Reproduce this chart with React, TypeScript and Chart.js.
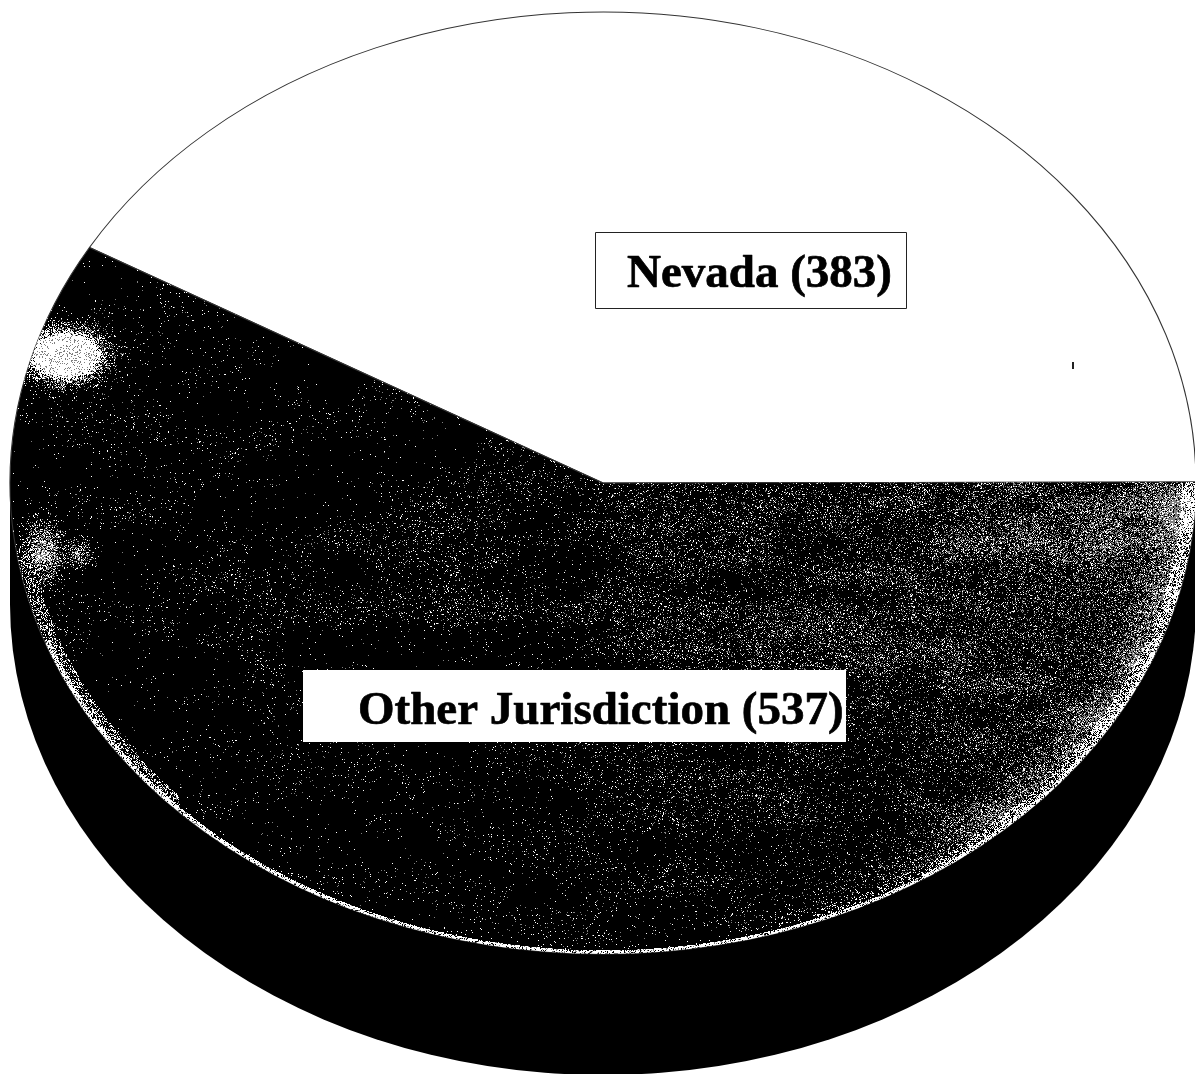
import React, { useEffect, useRef } from "react";
import { Chart, registerables } from "chart.js";

Chart.register(...registerables);

const categories = ["Nevada", "Other Jurisdiction"];
const counts = [383, 537];
const sliceColors = ["#ffffff", "#000000"];

const W = 1195;
const H = 1074;
const CX = 603;
const CY = 483;
const RX = 593;
const RY = 471;
const DEPTH = 121;

const hash = (x: number, y: number) => {
  let h = (Math.imul(x, 374761393) + Math.imul(y, 668265263)) | 0;
  h = Math.imul(h ^ (h >>> 13), 1274126177);
  h ^= h >>> 16;
  h = Math.imul(h, 1103515245);
  h ^= h >>> 15;
  return (h >>> 0) / 4294967296;
};
const smooth = (a: number, b: number, v: number) => {
  const t = Math.min(1, Math.max(0, (v - a) / (b - a)));
  return t * t * (3 - 2 * t);
};
const lattice = (x: number, y: number, cw: number, ch: number, seed: number) => {
  const gx = x / cw;
  const gy = y / ch;
  const ix = Math.floor(gx);
  const iy = Math.floor(gy);
  const fx = smooth(0, 1, gx - ix);
  const fy = smooth(0, 1, gy - iy);
  const a = hash(ix + seed, iy);
  const b = hash(ix + 1 + seed, iy);
  const c = hash(ix + seed, iy + 1);
  const d = hash(ix + 1 + seed, iy + 1);
  return (a * (1 - fx) + b * fx) * (1 - fy) + (c * (1 - fx) + d * fx) * fy;
};
const gauss = (x: number, y: number, mx: number, my: number, sx: number, sy: number) =>
  Math.exp(-(((x - mx) / sx) ** 2 + ((y - my) / sy) ** 2));

// Scanned-print speckle that sits on the dark slice (style only, not data)
let speckle: HTMLCanvasElement | null = null;
const getSpeckle = () => {
  if (speckle) return speckle;
  const off = document.createElement("canvas");
  off.width = W;
  off.height = H;
  const c = off.getContext("2d")!;
  const img = c.createImageData(W, H);
  for (let y = 0; y < H; y++) {
    for (let x = 0; x < W; x++) {
      const r = Math.hypot((x - CX) / RX, (y - CY) / RY);
      if (r > 1.002) continue;
      const n = 0.6 * lattice(x, y, 110, 34, 11) + 0.4 * lattice(x, y, 38, 18, 53);
      const t = Math.min(1, Math.max(0, (x - 420) / 760));
      const mask = 0.25 + 1.4 * smooth(0.34, 0.68, n);
      const mid = 0.02 + 0.05 * gauss(x, y, 640, 590, 380, 110);
      const right = 0.3 * t * t * (0.55 + 0.9 * smooth(0.3, 0.7, n));
      let p = mid * mask + right + 0.12 * t * t * gauss(x, y, 1000, 560, 260, 90);
      p += 0.4 * smooth(0.9, 0.995, r) * smooth(760, 1050, x) * (y > 470 ? 1 : 0);
      const hot = Math.min(1, gauss(x, y, 65, 355, 31, 21) * 2.6);
      p = Math.max(p, hot);
      p = Math.max(p, gauss(x, y, 42, 553, 17, 26) * 0.85);
      p = Math.max(p, gauss(x, y, 78, 552, 13, 12) * 0.6);
      p = Math.max(p, gauss(x, y, 1082, 752, 24, 20) * 0.75);
      p = Math.max(p, gauss(x, y, 1135, 660, 20, 26) * 0.7);
      if (r > 0.975 && y > 555 && x < 180) p = Math.max(p, 0.35);
      if (r > 0.991 && y > 640) p = Math.max(p, 0.85);
      if (hash(x, y) < p) {
        const whiteChance = hot > 0.6 || r > 0.975 ? 0.85 : 0.5 - 0.2 * t;
        const v = hash(x + 7001, y + 313) < whiteChance ? 255 : 128;
        const i = (y * W + x) * 4;
        img.data[i] = v;
        img.data[i + 1] = v;
        img.data[i + 2] = v;
        img.data[i + 3] = 255;
      }
    }
  }
  c.putImageData(img, 0, 0);
  speckle = off;
  return off;
};

const pie3d = {
  id: "pie3d",
  beforeDatasetsDraw(chart: any) {
    const ctx = chart.ctx;
    const arc = chart.getDatasetMeta(0).data[0];
    ctx.save();
    ctx.fillStyle = "#000";
    ctx.beginPath();
    ctx.ellipse(CX, CY + DEPTH, RX, RY, 0, 0, Math.PI * 2);
    ctx.fill();
    ctx.fillRect(CX - RX, CY, RX * 2, DEPTH);
    ctx.restore();
    ctx.save();
    ctx.translate(CX, CY);
    ctx.scale(RX / arc.outerRadius, RY / arc.outerRadius);
    ctx.translate(-arc.x, -arc.y);
  },
  afterDatasetsDraw(chart: any) {
    const ctx = chart.ctx;
    ctx.restore();
    const dark = chart.getDatasetMeta(0).data[1];
    ctx.save();
    ctx.beginPath();
    ctx.moveTo(CX, CY);
    ctx.ellipse(CX, CY, RX, RY, 0, dark.startAngle, dark.endAngle);
    ctx.closePath();
    ctx.clip();
    ctx.drawImage(getSpeckle(), 0, 0);
    ctx.restore();
  },
  afterDraw(chart: any) {
    const ctx = chart.ctx;
    const boxes = [
      { x: 595.5, y: 232.5, w: 311, h: 76, border: true, tx: 627, ty: 287 },
      { x: 303, y: 670, w: 543, h: 72, border: false, tx: 358, ty: 724 },
    ];
    ctx.save();
    ctx.font = 'bold 47px "Liberation Serif", serif';
    ctx.textBaseline = "alphabetic";
    ctx.textAlign = "left";
    ctx.lineJoin = "round";
    boxes.forEach((b, i) => {
      ctx.fillStyle = "#fff";
      ctx.fillRect(b.x, b.y, b.w, b.h);
      if (b.border) {
        ctx.strokeStyle = "#222";
        ctx.lineWidth = 1;
        ctx.strokeRect(b.x, b.y, b.w, b.h);
      }
      const text = `${categories[i]} (${counts[i]})`;
      ctx.fillStyle = "#000";
      ctx.strokeStyle = "#000";
      ctx.lineWidth = 0.7;
      ctx.fillText(text, b.tx, b.ty);
      ctx.strokeText(text, b.tx, b.ty);
    });
    ctx.fillStyle = "#222";
    ctx.fillRect(1072, 362, 2, 7);
    ctx.restore();
  },
};

export default function App() {
  const ref = useRef<HTMLCanvasElement>(null);
  useEffect(() => {
    const chart: any = new Chart(ref.current!, {
      type: "pie",
      data: {
        labels: categories,
        datasets: [
          {
            data: counts,
            backgroundColor: sliceColors,
            borderColor: "#333333",
            borderWidth: 1,
            clip: false,
          } as any,
        ],
      },
      options: {
        responsive: false,
        animation: false,
        rotation: -60,
        events: [],
        plugins: { legend: { display: false }, tooltip: { enabled: false }, title: { display: false } },
      },
      plugins: [pie3d],
    } as any);
    return () => chart.destroy();
  }, []);
  return (
    <canvas
      ref={ref}
      width={W}
      height={H}
      style={{ position: "absolute", left: 0, top: 0, width: W, height: H, display: "block" }}
    />
  );
}
